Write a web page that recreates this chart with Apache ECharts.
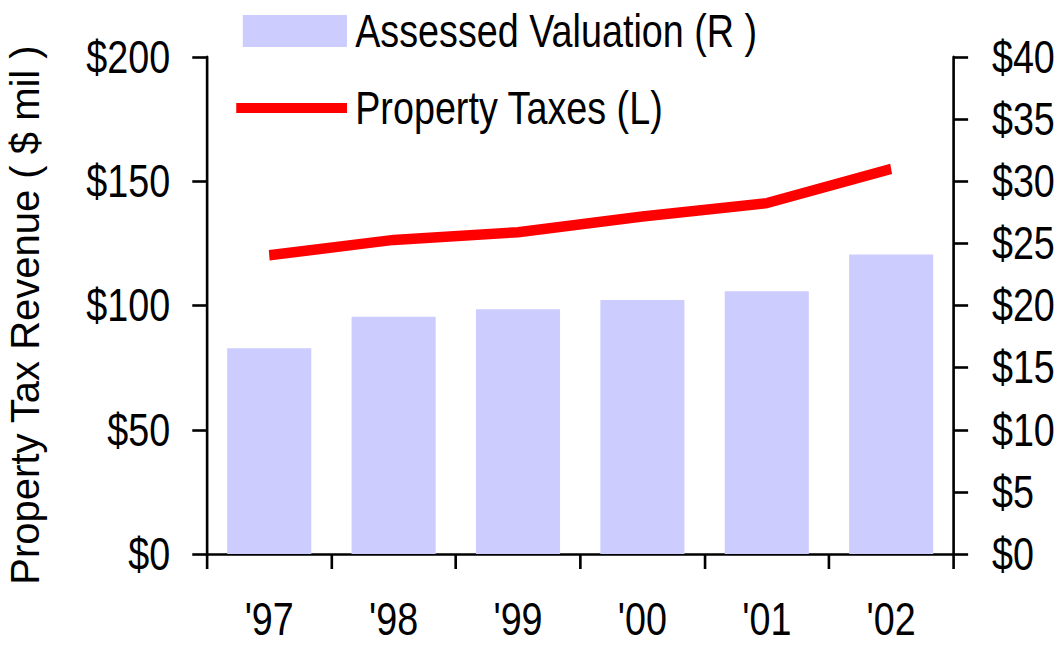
<!DOCTYPE html>
<html>
<head>
<meta charset="utf-8">
<script src="https://cdn.jsdelivr.net/npm/echarts@6/dist/echarts.min.js"></script>
<style>
  html, body { margin: 0; padding: 0; background: #ffffff; }
  #frame { width: 1059px; height: 645px; overflow: hidden; position: relative; }
  /* The chart is laid out wide and squeezed horizontally so the type reads as a narrow face */
  #chart { width: 1291px; height: 645px; transform: scaleX(0.8203); transform-origin: 0 0; }
</style>
</head>
<body>
<div id="frame"><div id="chart"></div></div>
<script>
// Fiscal years on the category axis
const years = ["'97", "'98", "'99", "'00", "'01", "'02"];
// Property tax revenue, $ millions (left axis)
const propertyTaxes = [120.2, 126.4, 129.5, 135.8, 141.2, 155.0];
// Assessed valuation (right axis)
const assessedValuation = [16.55, 19.1, 19.7, 20.45, 21.15, 24.1];
// Axis ranges
const leftMax = 200, leftStep = 50;
const rightMax = 40, rightStep = 5;

const SQUEEZE = 0.8203;
const font = "'Liberation Sans', Arial, sans-serif";

const chart = echarts.init(document.getElementById('chart'), null, { renderer: 'svg' });

const tickFont = { color: '#000', fontFamily: font, fontSize: 46, lineHeight: 44 };
const yTick = { show: true, length: 18, lineStyle: { color: '#000', width: 2.6 } };

chart.setOption({
  animation: false,
  backgroundColor: '#ffffff',
  grid: { left: 252.4, right: 128.8, top: 57, bottom: 91, containLabel: false },
  legend: [
    {
      data: [{ name: 'Assessed Valuation (R )', icon: 'rect' }],
      left: 296, top: 8, padding: 0,
      itemWidth: 127, itemHeight: 32,
      textStyle: { color: '#000', fontFamily: font, fontSize: 46, padding: [0, 0, 0, 5] },
      selectedMode: false
    },
    {
      data: [{ name: 'Property Taxes (L)', icon: 'rect' }],
      left: 288, top: 85, padding: 0,
      itemWidth: 135, itemHeight: 10,
      textStyle: { color: '#000', fontFamily: font, fontSize: 46, padding: [0, 0, 0, 5] },
      selectedMode: false
    }
  ],
  graphic: [
    {
      type: 'text',
      x: 30, y: 315,
      rotation: Math.PI / 2,
      scaleY: 1 / SQUEEZE,
      style: {
        text: 'Property Tax Revenue ( $ mil )',
        fill: '#000',
        font: "40px 'Liberation Sans', Arial, sans-serif",
        align: 'center',
        verticalAlign: 'middle'
      }
    }
  ],
  xAxis: {
    type: 'category',
    data: years,
    boundaryGap: true,
    axisLine: { show: true, lineStyle: { color: '#000', width: 2.6 } },
    axisTick: { show: true, length: 15, lineStyle: { color: '#000', width: 3.2 } },
    axisLabel: { margin: 43, ...tickFont },
    splitLine: { show: false }
  },
  yAxis: [
    {
      type: 'value',
      min: 0, max: leftMax, interval: leftStep,
      position: 'left',
      axisLine: { show: true, lineStyle: { color: '#000', width: 3.2 } },
      axisTick: yTick,
      axisLabel: { margin: 45, formatter: v => '$' + v, ...tickFont },
      splitLine: { show: false }
    },
    {
      type: 'value',
      min: 0, max: rightMax, interval: rightStep,
      position: 'right',
      axisLine: { show: true, lineStyle: { color: '#000', width: 3.2 } },
      axisTick: yTick,
      axisLabel: { margin: 47, formatter: v => '$' + v, ...tickFont },
      splitLine: { show: false }
    }
  ],
  series: [
    {
      name: 'Assessed Valuation (R )',
      type: 'bar',
      yAxisIndex: 1,
      data: assessedValuation,
      barCategoryGap: '32.4%',
      itemStyle: { color: '#ccccff' },
      z: 1
    },
    {
      name: 'Property Taxes (L)',
      type: 'line',
      yAxisIndex: 0,
      data: propertyTaxes,
      showSymbol: false,
      symbol: 'none',
      lineStyle: { color: '#ff0000', width: 10.5, join: 'miter' },
      itemStyle: { color: '#ff0000' },
      z: 3
    }
  ]
});
</script>
</body>
</html>
